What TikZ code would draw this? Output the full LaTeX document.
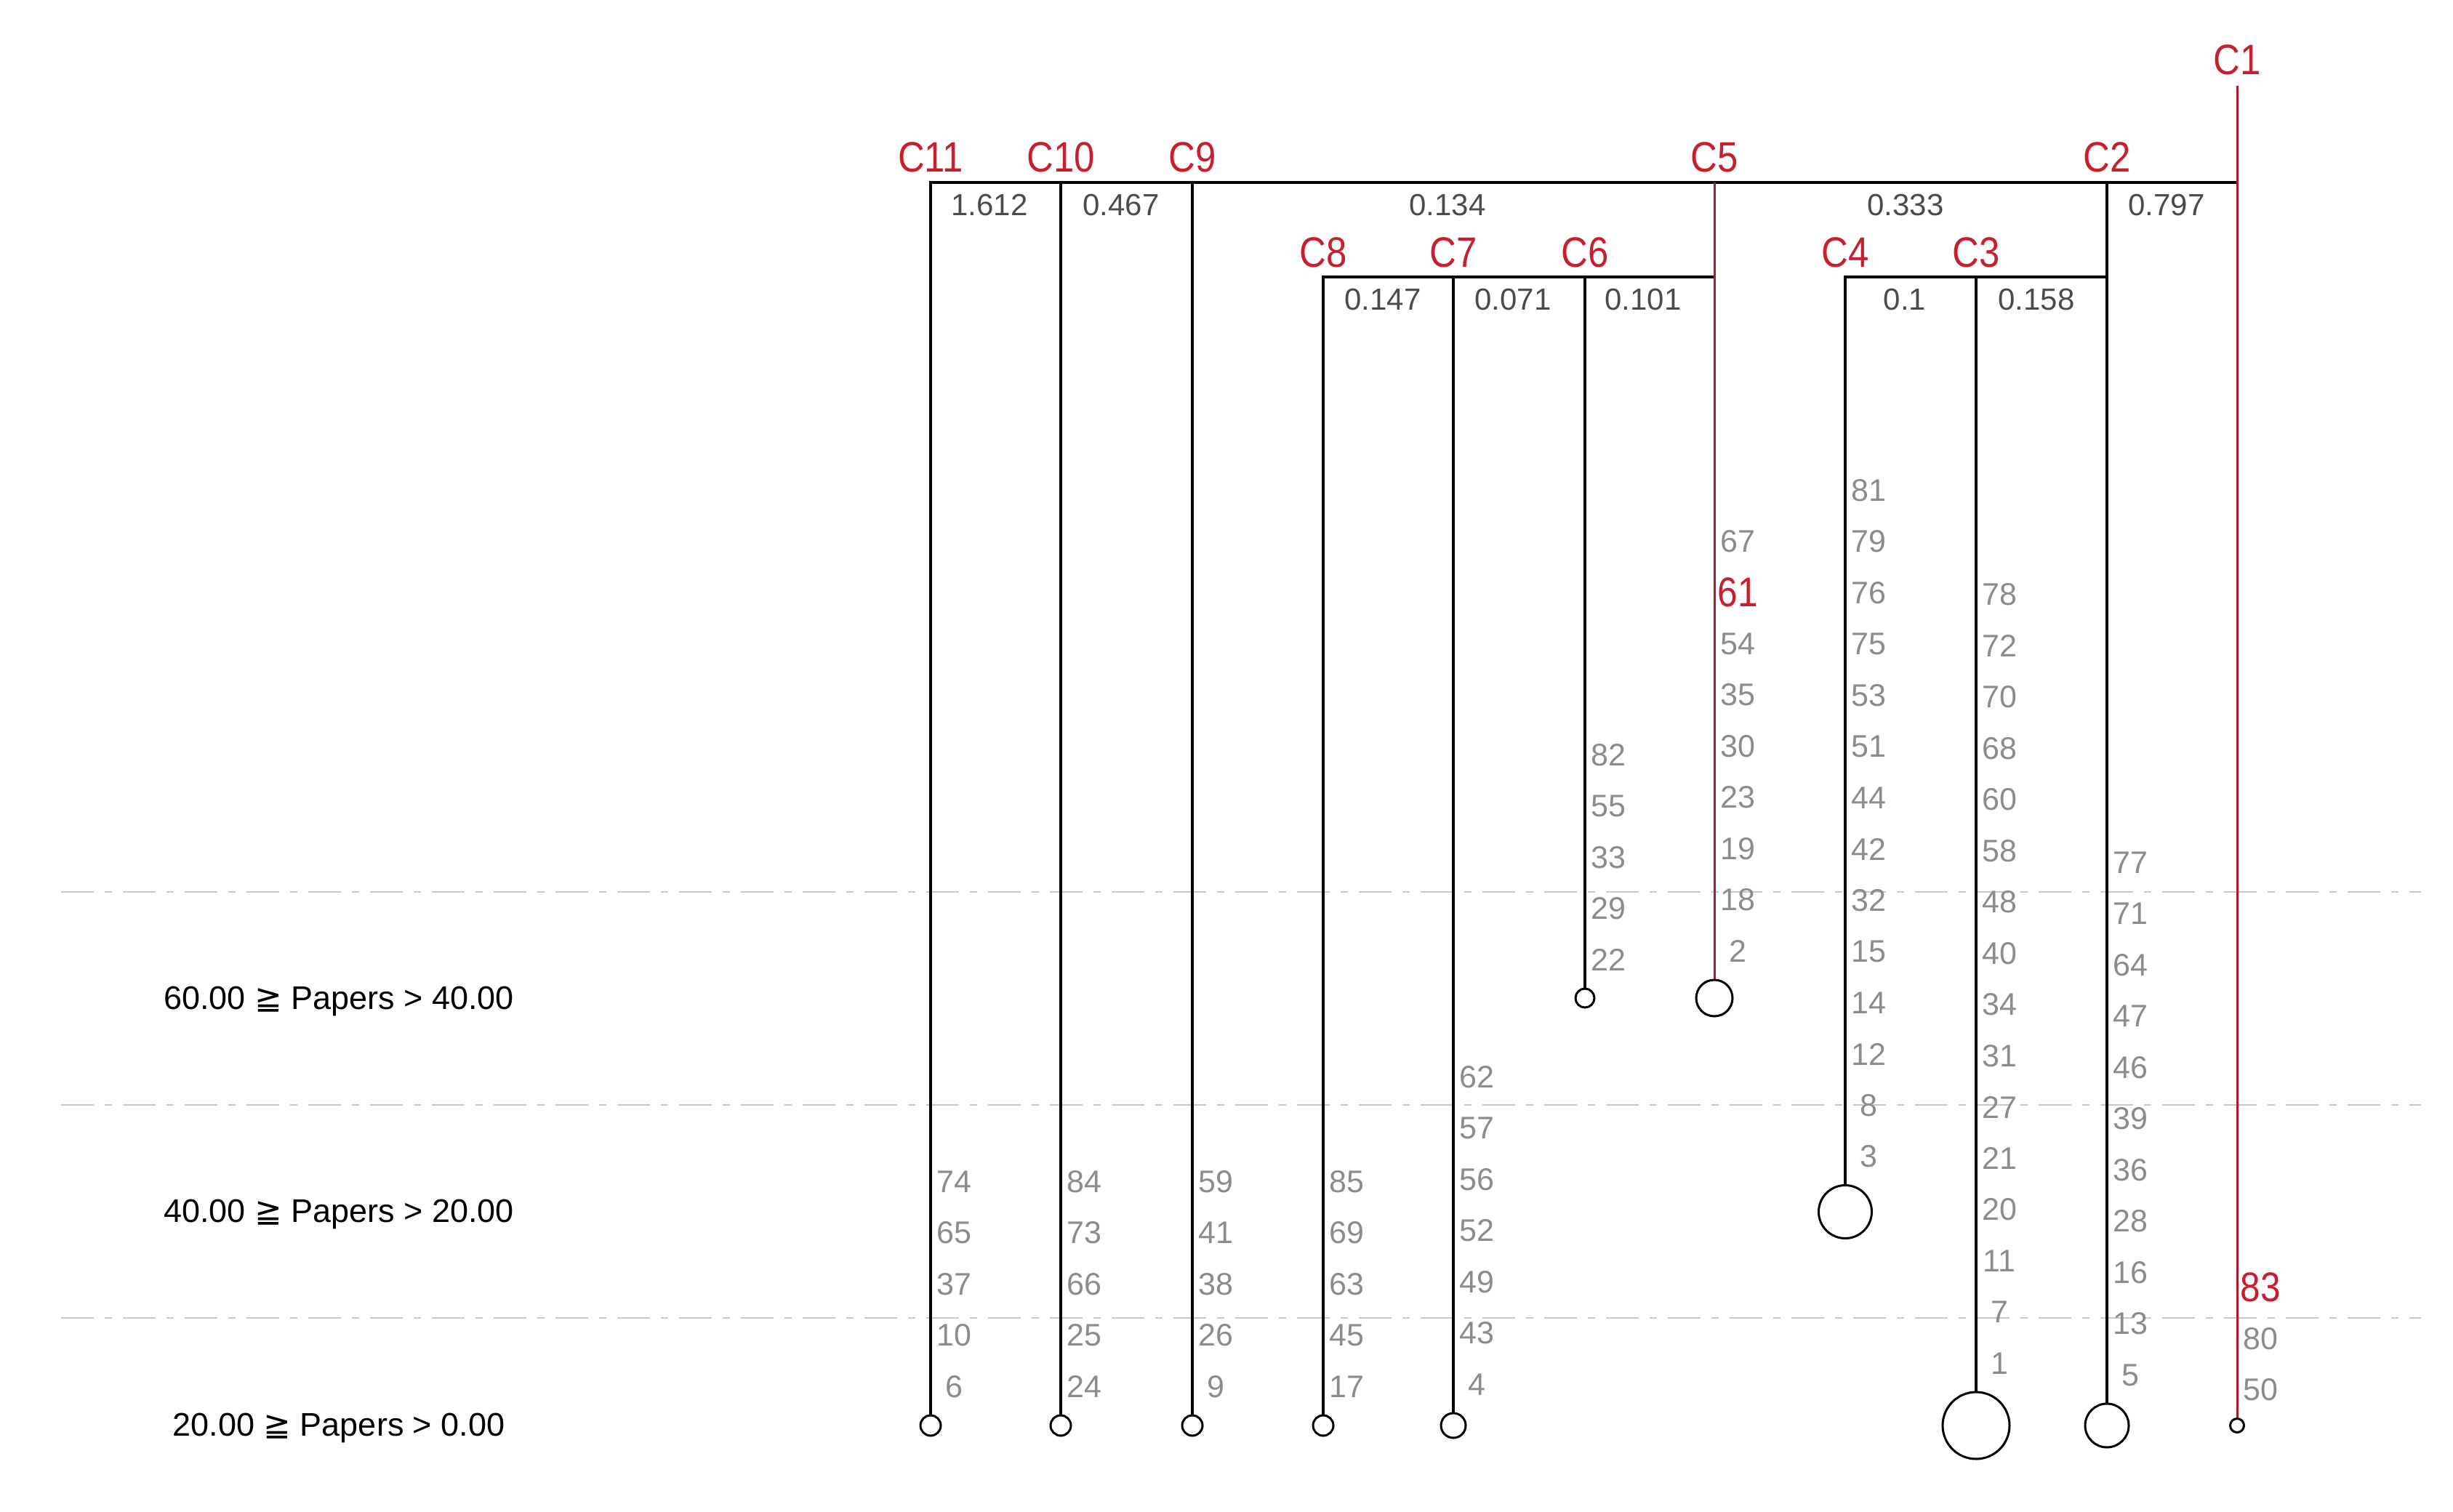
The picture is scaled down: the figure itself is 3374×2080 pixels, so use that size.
\documentclass[tikz,border=0pt]{standalone}
\usepackage{fontspec}
\setmainfont{Liberation Sans}
\newfontfamily\symfont{DejaVu Sans}
\newfontfamily\condfont[FakeStretch=0.87]{Liberation Sans}
\definecolor{cred}{RGB}{200,30,45}
\definecolor{lred}{RGB}{175,25,45}
\definecolor{leafgray}{RGB}{140,140,140}
\definecolor{valgray}{RGB}{75,75,75}
\definecolor{dashgray}{RGB}{200,200,200}
\newcommand\leafcol[2]{%
  \foreach \lab [count=\i from 0] in {#2} {%
    \ifnum\lab=61 \def\sty{bigred}\else\ifnum\lab=83 \def\sty{bigred}\else\def\sty{leaf}\fi\fi
    \node[\sty] (#1-\lab) at ([shift={(32,{-38-70.5*\i})}]#1.north) {\lab};
  }}
\begin{document}
\begin{tikzpicture}[x=0.2pt,y=-0.2pt,
  bar/.style={line width=0.8pt, black, line cap=rect},
  vline/.style={line width=0.8pt, black},
  redline/.style={line width=0.6pt, lred},
  gridline/.style={line width=0.55pt, dashgray, dash pattern=on 9pt off 3pt on 2pt off 3pt},
  endc/.style={circle, draw=black, line width=0.6pt, inner sep=0pt, fill=white, minimum size=#1},
  cname/.style={font=\condfont\fontsize{11.7}{13}\selectfont, text=cred, inner sep=0pt},
  val/.style={font=\fontsize{8.4}{10}\selectfont, text=valgray, inner sep=0pt},
  leaf/.style={font=\fontsize{8.6}{10}\selectfont, text=leafgray, inner sep=0pt},
  bigred/.style={font=\condfont\fontsize{11.4}{13}\selectfont, text=cred, inner sep=0pt},
  rangelbl/.style={font=\fontsize{9}{11}\selectfont, text=black, inner sep=0pt}]
\path[use as bounding box] (0,0) rectangle (3374,2080);

% dashed class boundaries
\coordinate (d1a) at (84,1227); \coordinate (d1b) at (3330,1227);
\coordinate (d2a) at (84,1520); \coordinate (d2b) at (3330,1520);
\coordinate (d3a) at (84,1813); \coordinate (d3b) at (3330,1813);
\draw[gridline] (d1a) -- (d1b);
\draw[gridline] (d2a) -- (d2b);
\draw[gridline] (d3a) -- (d3b);

% range labels
\node[rangelbl] (r1) at (466,1377) {60.00 {\symfont ≧} Papers > 40.00};
\node[rangelbl] (r2) at (466,1670) {40.00 {\symfont ≧} Papers > 20.00};
\node[rangelbl] (r3) at (466,1964) {20.00 {\symfont ≧} Papers > 0.00};

% junction coordinates
\coordinate (t11) at (1280,251);
\coordinate (t10) at (1459,251);
\coordinate (t9) at (1640,251);
\coordinate (t5) at (2358,251);
\coordinate (t2) at (2898,251);
\coordinate (t1) at (3077,251);
\coordinate (c1top) at (3077,118);
\coordinate (s8) at (1820,381);
\coordinate (s7) at (1999,381);
\coordinate (s6) at (2180,381);
\coordinate (s5) at (2358,381);
\coordinate (s4) at (2538,381);
\coordinate (s3) at (2718,381);
\coordinate (s2) at (2898,381);

% end circles
\node[endc=5.6pt] (e11) at (1280,1961) {};
\node[endc=5.6pt] (e10) at (1459,1961) {};
\node[endc=5.6pt] (e9) at (1640,1961) {};
\node[endc=5.6pt] (e8) at (1820,1961) {};
\node[endc=6.8pt] (e7) at (1999,1961) {};
\node[endc=5.2pt] (e6) at (2180,1373) {};
\node[endc=10pt] (e5) at (2358,1373) {};
\node[endc=14.6pt] (e4) at (2538,1667) {};
\node[endc=18.4pt] (e3) at (2718,1961) {};
\node[endc=12pt] (e2) at (2898,1961) {};
\node[endc=3.8pt] (e1) at (3077,1961) {};

% bars
\draw[bar] (t11) -- (t1);
\draw[bar] (s8) -- (s5);
\draw[bar] (s4) -- (s2);

% verticals
\draw[vline] (t11) -- (e11.north);
\draw[vline] (t10) -- (e10.north);
\draw[vline] (t9) -- (e9.north);
\draw[vline] (s8) -- (e8.north);
\draw[vline] (s7) -- (e7.north);
\draw[vline] (s6) -- (e6.north);
\draw[vline] (s4) -- (e4.north);
\draw[vline] (s3) -- (e3.north);
\draw[vline] (t2) -- (e2.north);
\draw[redline] (t5) -- (e5.north);
\draw[redline] (c1top) -- (e1.north);

% cluster names
\node[cname] (n11) at (1280,216) {C11};
\node[cname] (n10) at (1459,216) {C10};
\node[cname] (n9) at (1640,216) {C9};
\node[cname] (n5) at (2358,216) {C5};
\node[cname] (n2) at (2898,216) {C2};
\node[cname] (n1) at (3077,82) {C1};
\node[cname] (n8) at (1820,347) {C8};
\node[cname] (n7) at (1999,347) {C7};
\node[cname] (n6) at (2180,347) {C6};
\node[cname] (n4) at (2538,347) {C4};
\node[cname] (n3) at (2718,347) {C3};

% distances
\node[val] (v1) at (1361,282) {1.612};
\node[val] (v2) at (1542,282) {0.467};
\node[val] (v3) at (1991,282) {0.134};
\node[val] (v4) at (2621,282) {0.333};
\node[val] (v5) at (2980,282) {0.797};
\node[val] (v6) at (1902,412) {0.147};
\node[val] (v7) at (2081,412) {0.071};
\node[val] (v8) at (2260,412) {0.101};
\node[val] (v9) at (2620,412) {0.1};
\node[val] (v10) at (2801,412) {0.158};

% leaf labels
\leafcol{e11}{6,10,37,65,74}
\leafcol{e10}{24,25,66,73,84}
\leafcol{e9}{9,26,38,41,59}
\leafcol{e8}{17,45,63,69,85}
\leafcol{e7}{4,43,49,52,56,57,62}
\leafcol{e6}{22,29,33,55,82}
\leafcol{e5}{2,18,19,23,30,35,54,61,67}
\leafcol{e4}{3,8,12,14,15,32,42,44,51,53,75,76,79,81}
\leafcol{e3}{1,7,11,20,21,27,31,34,40,48,58,60,68,70,72,78}
\leafcol{e2}{5,13,16,28,36,39,46,47,64,71,77}
\leafcol{e1}{50,80,83}
\end{tikzpicture}
\end{document}
